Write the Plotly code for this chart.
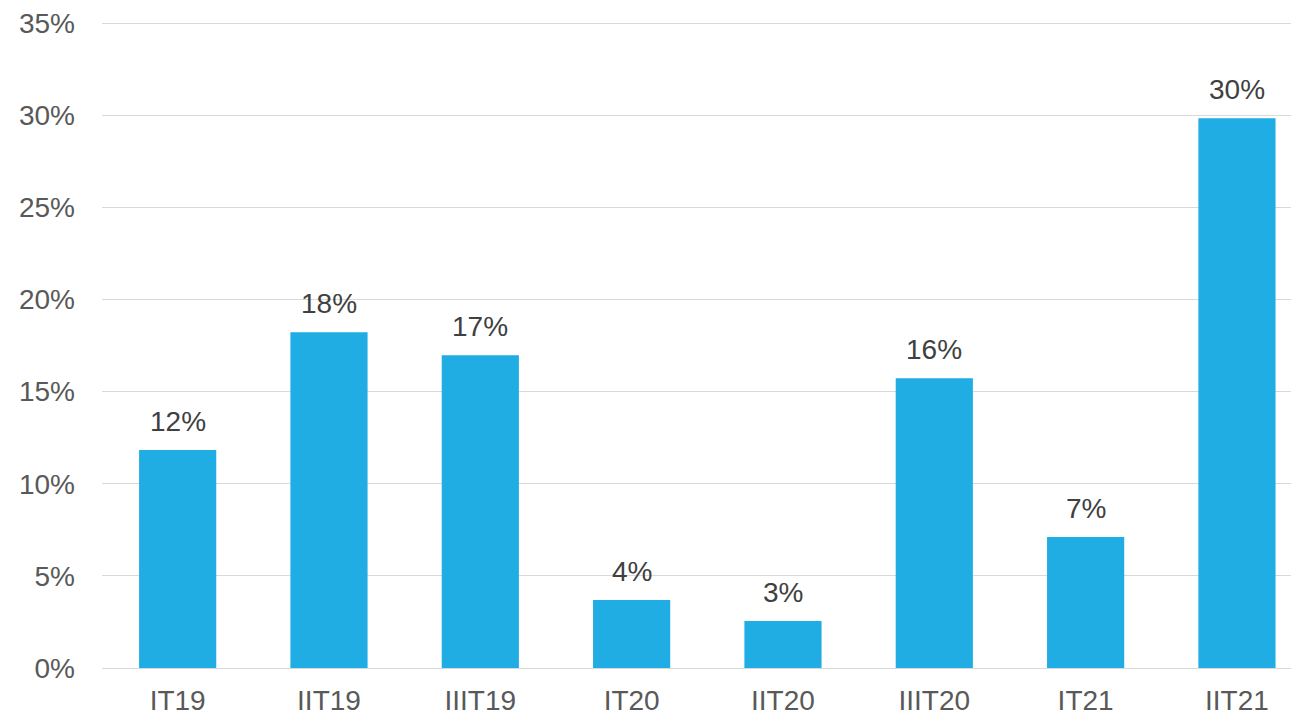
import plotly.graph_objects as go

categories = ["IT19", "IIT19", "IIIT19", "IT20", "IIT20", "IIIT20", "IT21", "IIT21"]
values = [0.1183, 0.1823, 0.1698, 0.0369, 0.0255, 0.1573, 0.0711, 0.2984]
tick_vals = [0, 0.05, 0.10, 0.15, 0.20, 0.25, 0.30, 0.35]
tick_text = ["0%", "5%", "10%", "15%", "20%", "25%", "30%", "35%"]

FONT = "Liberation Sans, Arial, sans-serif"
FS = 28

fig = go.Figure(
    go.Bar(
        x=categories,
        y=values,
        marker=dict(color="#1FADE4", line=dict(width=0)),
        cliponaxis=False,
    )
)

for c, v in zip(categories, values):
    fig.add_annotation(
        x=c, y=v, text=f"{v:.0%}", showarrow=False,
        yanchor="bottom", yshift=11,
        font=dict(family=FONT, size=FS, color="#404040"),
    )

# page body has an 8px margin, so the figure is offset by 8px
fig.update_layout(
    width=1291,
    height=708,
    margin=dict(l=94, r=0, t=13, b=48, autoexpand=False),
    paper_bgcolor="white",
    plot_bgcolor="white",
    bargap=0.49,
    showlegend=False,
    font=dict(family=FONT, size=FS, color="#595959"),
)
fig.update_xaxes(
    range=[-0.5, 7.41],
    automargin=False,
    showgrid=False,
    showline=False,
    zeroline=False,
    ticks="",
    ticklabelstandoff=13,
    tickfont=dict(family=FONT, size=FS, color="#595959"),
)
fig.update_yaxes(
    range=[0, 0.3512],
    automargin=False,
    tickvals=tick_vals,
    ticktext=tick_text,
    showgrid=True,
    gridcolor="#D9D9D9",
    gridwidth=1,
    zeroline=True,
    zerolinecolor="#D9D9D9",
    zerolinewidth=1,
    showline=False,
    ticks="",
    ticklabelstandoff=26,
    tickfont=dict(family=FONT, size=FS, color="#595959"),
)

fig.write_html("out.html")
